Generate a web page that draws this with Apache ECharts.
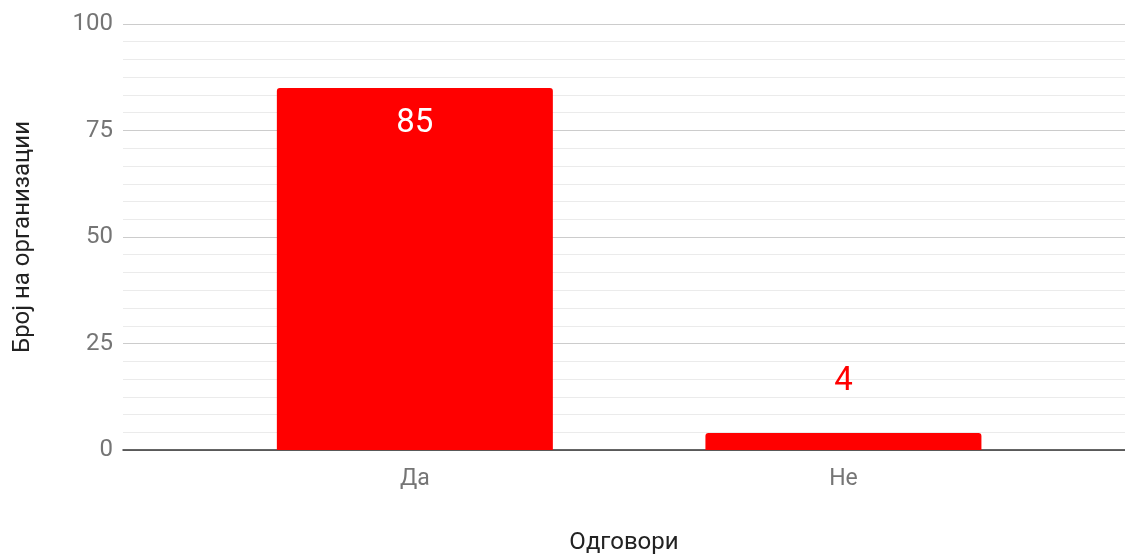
<!DOCTYPE html>
<html>
<head>
<meta charset="utf-8">
<script src="https://cdn.jsdelivr.net/npm/echarts@6/dist/echarts.min.js"></script>
<style>
  html, body { margin: 0; padding: 0; background: #fff; }
  #chart { width: 1125px; height: 554px; }
</style>
</head>
<body>
<div id="chart"></div>
<script>
const categories = ['Да', 'Не'];
const counts = [85, 4];
const yTicks = [0, 25, 50, 75, 100];

const chart = echarts.init(document.getElementById('chart'));

// bar labels: big bar gets its number inside, small bar above
const barData = counts.map((v, i) => ({
  value: [i, v],
  label: v > 50
    ? {position: 'insideTop', distance: 19, color: '#ffffff'}
    : {position: 'top', distance: 35, color: '#ff0000'}
}));

chart.setOption({
  animation: false,
  textStyle: {fontFamily: 'Roboto'},
  grid: {left: 123, right: 0, top: 24, bottom: 104, outerBoundsMode: 'none'},
  xAxis: {
    type: 'value',
    min: -0.681,
    max: 1.657,
    name: 'Одговори',
    nameLocation: 'middle',
    nameGap: 81,
    nameTextStyle: {fontSize: 24, color: '#222', fontFamily: 'Roboto'},
    axisLine: {onZero: false, lineStyle: {color: '#333', width: 1.5}},
    axisTick: {show: false},
    splitLine: {show: false},
    axisLabel: {
      customValues: [0, 1],
      formatter: v => categories[Math.round(v)],
      fontSize: 23,
      color: '#757575',
      margin: 18
    }
  },
  yAxis: {
    type: 'value',
    min: yTicks[0],
    max: yTicks[yTicks.length - 1],
    interval: 25,
    name: 'Број на организации',
    nameLocation: 'middle',
    nameGap: 88,
    nameTextStyle: {fontSize: 24, color: '#222', fontFamily: 'Roboto'},
    axisLine: {show: false},
    axisTick: {show: false},
    axisLabel: {fontSize: 24, color: '#757575', margin: 10},
    splitLine: {lineStyle: {color: '#cccccc', width: 1}},
    minorTick: {show: false, splitNumber: 6},
    minorSplitLine: {show: true, lineStyle: {color: '#ebebeb', width: 1}}
  },
  series: [{
    type: 'bar',
    data: barData,
    barWidth: 276,
    itemStyle: {color: '#ff0000', borderRadius: [3, 3, 0, 0]},
    label: {show: true, fontSize: 33, fontFamily: 'Roboto'}
  }]
});
</script>
</body>
</html>
